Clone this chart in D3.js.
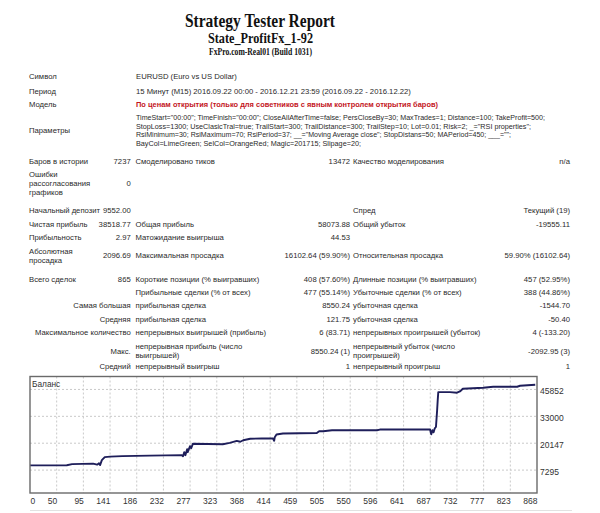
<!DOCTYPE html>
<html>
<head>
<meta charset="utf-8">
<script src="https://cdn.jsdelivr.net/npm/d3@7"></script>
<style>
html,body{margin:0;padding:0;background:#fff;}
svg{display:block;}
</style>
</head>
<body>
<svg id="c" width="600" height="513"></svg>
<script>
// ---------- DATA ----------
const titleText = "Strategy Tester Report";
const subTitleText = "State_ProfitFx_1-92";
const serverText = "FxPro.com-Real01 (Build 1031)";

const infoRows = [
  ["Символ", "EURUSD (Euro vs US Dollar)"],
  ["Период", "15 Минут (M15) 2016.09.22 00:00 - 2016.12.21 23:59 (2016.09.22 - 2016.12.22)"]
];
const modelLabel = "Модель";
const modelText = "По ценам открытия (только для советников с явным контролем открытия баров)";
const paramsLabel = "Параметры";
const paramLines = [
  'TimeStart="00:00"; TimeFinish="00:00"; CloseAllAfterTime=false; PersCloseBy=30; MaxTrades=1; Distance=100; TakeProfit=500;',
  'StopLoss=1300; UseClasicTral=true; TrailStart=300; TrailDistance=300; TrailStep=10; Lot=0.01; Risk=2; _="RSI properties";',
  'RsiMinimum=30; RsiMaximum=70; RsiPeriod=37; __="Moving Average close"; StopDistans=50; MAPeriod=450; ___="";',
  'BayCol=LimeGreen; SelCol=OrangeRed; Magic=201715; Slipage=20;'
];

const statRows = [
  ["Баров в истории", "7237", "Смоделировано тиков", "13472", "Качество моделирования", "n/a"],
  ["Ошибки\nрассогласования\nграфиков", "0", "", "", "", ""],
  ["Начальный депозит", "9552.00", "", "", "Спред", "Текущий (19)"],
  ["Чистая прибыль", "38518.77", "Общая прибыль", "58073.88", "Общий убыток", "-19555.11"],
  ["Прибыльность", "2.97", "Матожидание выигрыша", "44.53", "", ""],
  ["Абсолютная\nпросадка", "2096.69", "Максимальная просадка", "16102.64 (59.90%)", "Относительная просадка", "59.90% (16102.64)"],
  ["Всего сделок", "865", "Короткие позиции (% выигравших)", "408 (57.60%)", "Длинные позиции (% выигравших)", "457 (52.95%)"],
  ["", "", "Прибыльные сделки (% от всех)", "477 (55.14%)", "Убыточные сделки (% от всех)", "388 (44.86%)"],
  ["Самая большая", "", "прибыльная сделка", "8550.24", "убыточная сделка", "-1544.70"],
  ["Средняя", "", "прибыльная сделка", "121.75", "убыточная сделка", "-50.40"],
  ["Максимальное количество", "", "непрерывных выигрышей (прибыль)", "6 (83.71)", "непрерывных проигрышей (убыток)", "4 (-133.20)"],
  ["Макс.", "", "непрерывная прибыль (число\nвыигрышей)", "8550.24 (1)", "непрерывный убыток (число\nпроигрышей)", "-2092.95 (3)"],
  ["Средний", "", "непрерывный выигрыш", "1", "непрерывный проигрыш", "1"]
];

const chartLabel = "Баланс";
const xTickLabels = ["0","50","95","141","186","232","277","323","368","414","459","505","550","596","641","687","732","777","823","868"];
const xMax = 868;
const yTickValues = [7295, 20147, 33000, 45852];

const tradeIdx = [0,63,72,108,115,118,120,123,128,137,158,205,260,262,264,266,269,270,274,276,279,330,342,354,360,365,377,397,416,418,419,422,433,491,495,502,517,594,599,685,686,687,689,691,693,695,697,698,699,719,731,736,741,776,793,834,839,865];
const balance  = [9552,9600,10150,10390,9900,10600,9700,12055,13483,13720,13960,14200,14435,13960,15863,14435,17291,15863,18719,17767,19909,19671,20290,21242,20861,21575,22289,22384,22384,21337,23003,24288,24764,25050,25859,25859,26335,26335,26668,26668,25383,24431,26335,25383,27287,27906,35855,40615,44566,44566,44280,44899,46184,46660,47136,47136,47612,48071];

// ---------- LAYOUT ----------
const svg = d3.select("#c");
const FONT = "'Liberation Sans', Arial, sans-serif";
const SERIF = "'Liberation Serif', 'Times New Roman', serif";
const FS = 7.7;
const txtCol = "#2a2a2a";

// Titles
svg.append("text").attr("x", 260).attr("y", 26.5).attr("text-anchor", "middle")
  .attr("font-family", SERIF).attr("font-weight", "bold").attr("font-size", 18)
  .attr("textLength", 150).attr("lengthAdjust", "spacingAndGlyphs").attr("fill", "#111").text(titleText);
svg.append("text").attr("x", 260.5).attr("y", 42.8).attr("text-anchor", "middle")
  .attr("font-family", SERIF).attr("font-weight", "bold").attr("font-size", 14.5)
  .attr("textLength", 105).attr("lengthAdjust", "spacingAndGlyphs").attr("fill", "#111").text(subTitleText);
svg.append("text").attr("x", 260.5).attr("y", 55).attr("text-anchor", "middle")
  .attr("font-family", SERIF).attr("font-weight", "bold").attr("font-size", 10)
  .attr("textLength", 103).attr("lengthAdjust", "spacingAndGlyphs").attr("fill", "#111").text(serverText);

const colX = {l0: 29, r1: 130.7, l2: 135.5, r3: 350, l4: 353, r5: 570};

function put(x, y, s, anchor, opts) {
  opts = opts || {};
  const lines = s.split("\n");
  const lh = 9;
  const y0 = y - (lines.length - 1) * lh / 2;
  lines.forEach((ln, i) => {
    const t = svg.append("text").attr("x", x).attr("y", y0 + i * lh).attr("dy", "0.35em")
      .attr("text-anchor", anchor).attr("font-family", FONT).attr("font-size", opts.fs || FS)
      .attr("fill", opts.fill || txtCol).text(ln);
    if (opts.bold) t.attr("font-weight", "bold");
    if (opts.len) t.attr("textLength", opts.len).attr("lengthAdjust", "spacingAndGlyphs");
  });
}

const infoY = [76.7, 91];
infoRows.forEach((r, i) => { put(colX.l0, infoY[i], r[0], "start"); put(136, infoY[i], r[1], "start"); });
put(colX.l0, 104, modelLabel, "start");
put(136, 104, modelText, "start", {bold: true, fill: "#c3151c", len: 302});
put(colX.l0, 130.7, paramsLabel, "start");
const paramY = [117.5, 126, 134.5, 143.5];
const paramLen = [409, 395, 375, 225];
paramLines.forEach((p, i) => put(136, paramY[i], p, "start", {len: paramLen[i]}));

const rowY = [161.7, 183.3, 210.7, 224.7, 237.3, 255.7, 279.3, 292.3, 305.7, 319, 332, 351, 366.7];
statRows.forEach((r, i) => {
  const y = rowY[i];
  if (r[0]) {
    if (i >= 8) put(colX.r1, y, r[0], "end");
    else put(colX.l0, y, r[0], "start");
  }
  if (r[1]) put(colX.r1, y, r[1], "end");
  if (r[2]) put(colX.l2, y, r[2], "start");
  if (r[3]) put(colX.r3, y, r[3], "end");
  if (r[4]) put(colX.l4, y, r[4], "start");
  if (r[5]) put(colX.r5, y, r[5], "end");
});

// ---------- CHART ----------
const L = 30, R = 537, T = 376.5, B = 493;
const x = d3.scaleLinear().domain([0, xMax]).range([L, R]);
const y = d3.scaleLinear().domain([-3653, 52040]).range([B, T]);

const g = svg.append("g");
const xTicks = xTickLabels.map((lab, i) => ({lab, v: i * xMax / (xTickLabels.length - 1)}));

// grid
g.selectAll(".vg").data(xTicks.slice(1, -1)).enter().append("line")
  .attr("x1", d => x(d.v)).attr("x2", d => x(d.v)).attr("y1", T).attr("y2", B)
  .attr("stroke", "#c9c9c9").attr("stroke-width", 1).attr("stroke-dasharray", "2,2");
g.selectAll(".hg").data(yTickValues).enter().append("line")
  .attr("x1", L).attr("x2", R).attr("y1", d => y(d)).attr("y2", d => y(d))
  .attr("stroke", "#c9c9c9").attr("stroke-width", 1).attr("stroke-dasharray", "2,2");

// balance line
const pts = tradeIdx.map((t, i) => [t, balance[i]]);
g.append("path").datum(pts)
  .attr("d", d3.line().x(d => x(d[0])).y(d => y(d[1])))
  .attr("fill", "none").attr("stroke", "#1e1e5a").attr("stroke-width", 1.9)
  .attr("stroke-linejoin", "round");

// frame
g.append("rect").attr("x", L).attr("y", T).attr("width", R - L).attr("height", B - T)
  .attr("fill", "none").attr("stroke", "#6a6a6a").attr("stroke-width", 1.4);

g.append("text").attr("x", 32).attr("y", 384.5).attr("dy", "0.35em")
  .attr("font-family", FONT).attr("font-size", 8.3).attr("fill", "#333").text(chartLabel);

// x labels
g.selectAll(".xl").data(xTicks).enter().append("text")
  .attr("x", (d, i) => i === 0 ? L + 0.5 : x(d.v) + 0.5)
  .attr("y", 503.5)
  .attr("text-anchor", (d, i) => i === 0 ? "start" : "end")
  .attr("font-family", FONT).attr("font-size", 8.5).attr("fill", "#333")
  .text(d => d.lab);

// y labels
g.selectAll(".yl").data(yTickValues).enter().append("text")
  .attr("x", 540).attr("y", d => y(d) + 1.5).attr("dy", "0.35em")
  .attr("font-family", FONT).attr("font-size", 8.5).attr("fill", "#333")
  .text(d => d);

// bottom separator
svg.append("line").attr("x1", 30).attr("x2", 572).attr("y1", 510.5).attr("y2", 510.5)
  .attr("stroke", "#e2e2e2").attr("stroke-width", 1);
</script>
</body>
</html>
